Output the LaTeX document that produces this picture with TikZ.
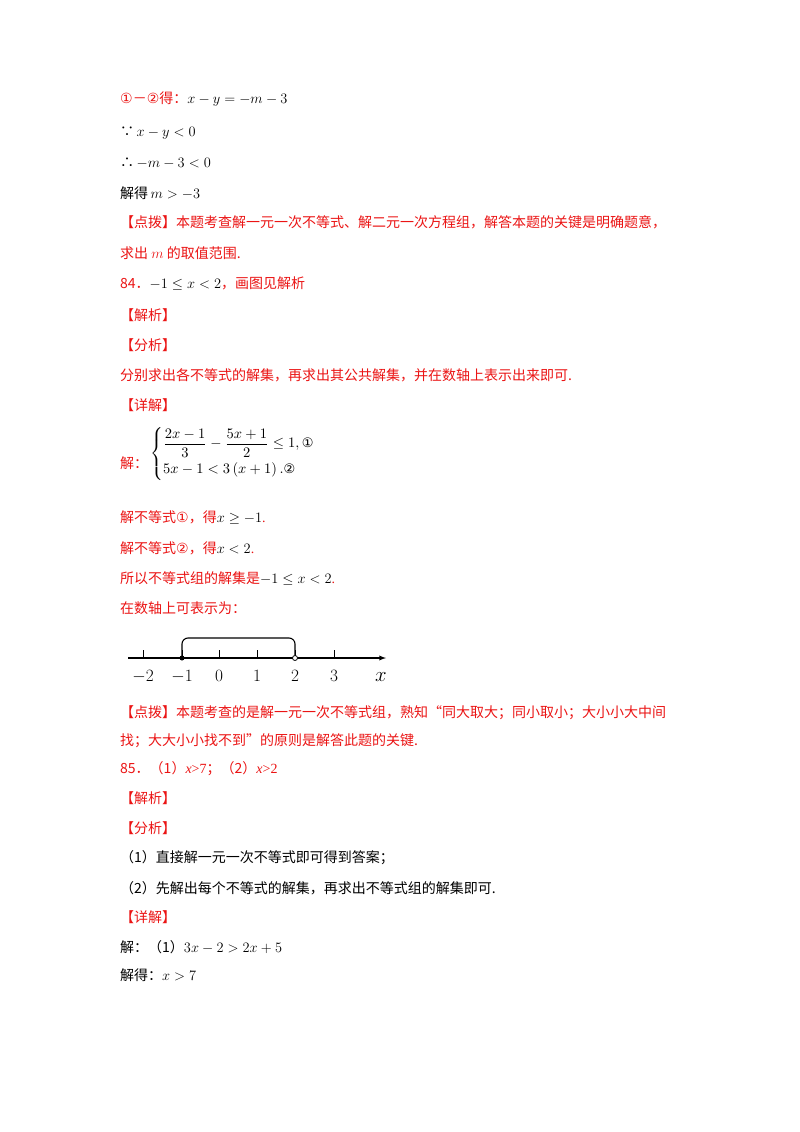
\documentclass[tikz,border=0pt]{standalone}
\usepackage{amsmath}
\usepackage{fontspec}
\setmainfont{Liberation Serif}
\newfontfamily\cjk{Noto Sans CJK SC}
\newfontfamily\djv{DejaVu Sans}
\newcommand{\cnum}[1]{{\djv\fontsize{14}{16}\selectfont #1}}
\definecolor{rd}{RGB}{235,20,20}
\begin{document}
\begin{tikzpicture}[x=1pt,y=-1pt,
 tl/.style={anchor=base west,inner sep=0pt,font=\fontsize{14}{16}\selectfont\cjk},
 rt/.style={tl,text=rd},
 nl/.style={font=\fontsize{14}{16}\selectfont,anchor=base,inner sep=0pt}]
\useasboundingbox[fill=white] (0,0) rectangle (800,1132);
\node[rt] (l1) at (120,103) {\cnum{①}－\cnum{②}得：\rmfamily\color{black}$x-y=-m-3$};
\node[tl] (l2) at (120,136) {∵\rmfamily$\,x-y<0$};
\node[tl] (l3) at (120,167) {∴\rmfamily$\,-m-3<0$};
\node[tl] (l4) at (120,198) {解得\rmfamily$\,m>-3$};
\node[rt] (l5) at (120,227) {【点拨】本题考查解一元一次不等式、解二元一次方程组，解答本题的关键是明确题意，};
\node[rt] (l6) at (120,258) {求出 \rmfamily$m$\cjk\ 的取值范围.};
\node[rt] (l7) at (120,288) {84．\rmfamily\color{black}$-1\le x<2$\cjk\color{rd}，画图见解析};
\node[rt] (l8) at (120,320) {【解析】};
\node[rt] (l9) at (120,350) {【分析】};
\node[rt] (l10) at (120,380) {分别求出各不等式的解集，再求出其公共解集，并在数轴上表示出来即可.};
\node[rt] (l11) at (120,410) {【详解】};
\node[rt] (l12) at (120,468) {解：};
\node[anchor=west,inner sep=0pt] (sys) at (150,454)
 {\scalebox{1.45}{$\displaystyle\begin{cases}\dfrac{2x-1}{3}-\dfrac{5x+1}{2}\le 1,\text{\djv\fontsize{9}{10}\selectfont ①}\\[3pt] 5x-1<3\left(x+1\right).\text{\djv\fontsize{9}{10}\selectfont ②}\end{cases}$}};
\node[rt] (l13) at (120,522) {解不等式\cnum{①}，得\rmfamily\color{black}$x\ge-1$\color{rd}.};
\node[rt] (l14) at (120,553) {解不等式\cnum{②}，得\rmfamily\color{black}$x<2$\color{rd}.};
\node[rt] (l15) at (120,583) {所以不等式组的解集是\rmfamily\color{black}$-1\le x<2$\color{rd}.};
\node[rt] (l16) at (120,613) {在数轴上可表示为：};
% number line
\coordinate (a0) at (128,658);
\coordinate (a1) at (386,658);
\draw[line width=1.3pt,-latex] (a0) -- (a1);
\foreach \v/\x in {-2/143,-1/182,0/219,1/257,2/295,3/334}{
  \draw[line width=1pt] (\x,650) -- (\x,658);
  \node[nl,font=\fontsize{17}{19}\selectfont] at (\x,681) {$\v$};
}
\node[nl,font=\fontsize{20}{22}\selectfont] (xl) at (381,681) {$x$};
\draw[line width=1.1pt] (182,658) -- (182,644) to[out=90,in=180] (188,638) -- (289,638) to[out=0,in=90] (295,644) -- (295,655);
\fill (182,658) circle (2.5pt);
\draw[fill=white,line width=0.8pt] (295,658) circle (2.5pt);
\node[rt] (l17) at (120,717) {【点拨】本题考查的是解一元一次不等式组，熟知“同大取大；同小取小；大小小大中间};
\node[rt] (l18) at (120,745) {找；大大小小找不到”的原则是解答此题的关键.};
\node[rt] (l19) at (120,773) {85．（1）\rmfamily\itshape x\upshape>7\cjk；（2）\rmfamily\itshape x\upshape>2};
\node[rt] (l20) at (120,803) {【解析】};
\node[rt] (l21) at (120,833) {【分析】};
\node[tl] (l22) at (120,862) {（1）直接解一元一次不等式即可得到答案；};
\node[tl] (l23) at (120,893) {（2）先解出每个不等式的解集，再求出不等式组的解集即可.};
\node[rt] (l24) at (120,922) {【详解】};
\node[tl] (l25) at (120,952) {解：（1）\rmfamily$3x-2>2x+5$};
\node[tl] (l26) at (120,980) {解得：\rmfamily$x>7$};
\end{tikzpicture}
\end{document}
